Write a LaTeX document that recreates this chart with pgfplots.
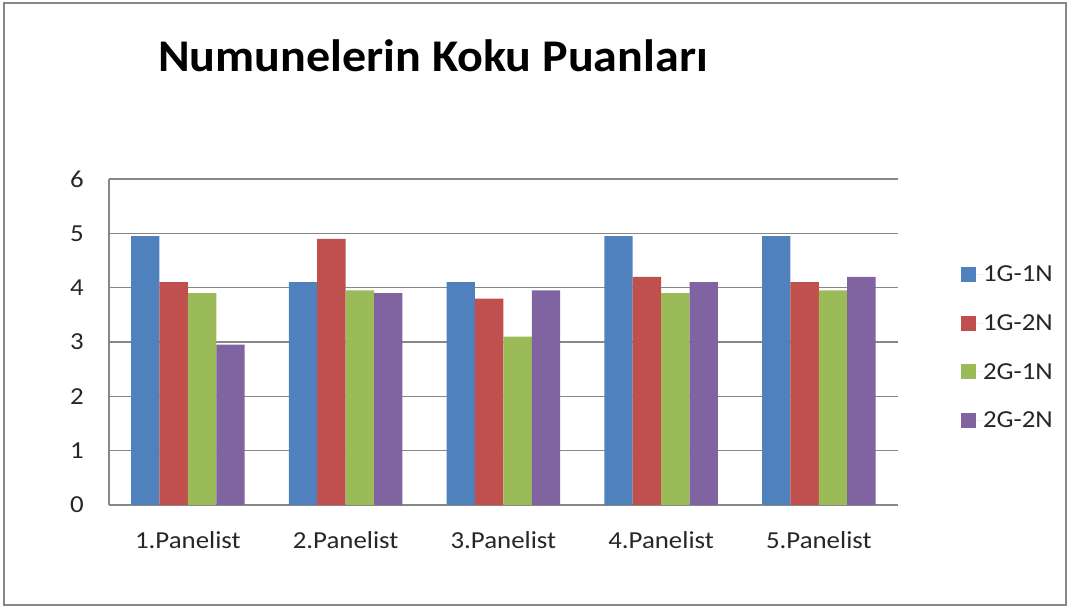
\documentclass[border=0pt]{standalone}
\usepackage{pgfplots}
\pgfplotsset{compat=1.18}
\usepackage{fontspec}
\setmainfont{Carlito}[FakeStretch=1.1]
\newfontfamily\titlefont{Carlito}[FakeStretch=1.06]
\definecolor{cA}{HTML}{4F81BD}
\definecolor{cB}{HTML}{C0504D}
\definecolor{cC}{HTML}{9BBB59}
\definecolor{cD}{HTML}{8064A2}
\definecolor{gridc}{HTML}{878787}
\begin{document}
\begin{tikzpicture}[x=1bp,y=1bp]
\useasboundingbox (0,0) rectangle (1072,607);
\draw[color=gridc, line width=1.8bp] (4,2) rectangle (1066,604);
\node[anchor=base, font=\titlefont\fontsize{45.5}{45.5}\selectfont\bfseries] at (433,535) {Numunelerin Koku Puanları};
\begin{axis}[
  at={(109bp,102bp)}, anchor=south west,
  scale only axis, width=788.7bp, height=326bp,
  ybar=0pt, bar width=28.4bp,
  xmin=-0.5, xmax=4.5, ymin=0, ymax=6,
  xtick=data, xticklabels={1.Panelist,2.Panelist,3.Panelist,4.Panelist,5.Panelist},
  ytick={0,1,2,3,4,5,6},
  axis x line=bottom, axis y line=left,
  axis line style={-, color=gridc, line width=1.2bp},
  ymajorgrids, grid style={color=gridc, line width=1.2bp},
  major tick length=0pt,
  tick label style={font=\fontsize{24.5}{24.5}\selectfont, inner sep=0pt, text=black!85},
  /pgf/number format/assume math mode=true,
  yticklabel shift=25bp,
  xticklabel shift=26bp,
  legend style={at={(1.08,0.735)}, anchor=north west, draw=none, fill=none,
    font=\fontsize{24.5}{24.5}\selectfont, row sep=31.5bp, inner sep=0pt,
    nodes={inner sep=0pt, text=black!85}},
  legend cell align=left,
  legend image code/.code={\fill[#1, draw=none] (0bp,-7.5bp) rectangle (15bp,7.5bp); \path (0bp,0bp) -- (22bp,0bp);},
]
\addplot[fill=cA, draw=none] coordinates {(0,4.95) (1,4.1) (2,4.1) (3,4.95) (4,4.95)};
\addplot[fill=cB, draw=none] coordinates {(0,4.1) (1,4.9) (2,3.8) (3,4.2) (4,4.1)};
\addplot[fill=cC, draw=none] coordinates {(0,3.9) (1,3.95) (2,3.1) (3,3.9) (4,3.95)};
\addplot[fill=cD, draw=none] coordinates {(0,2.95) (1,3.9) (2,3.95) (3,4.1) (4,4.2)};
\legend{1G-1N,1G-2N,2G-1N,2G-2N}
\end{axis}
\end{tikzpicture}
\end{document}
